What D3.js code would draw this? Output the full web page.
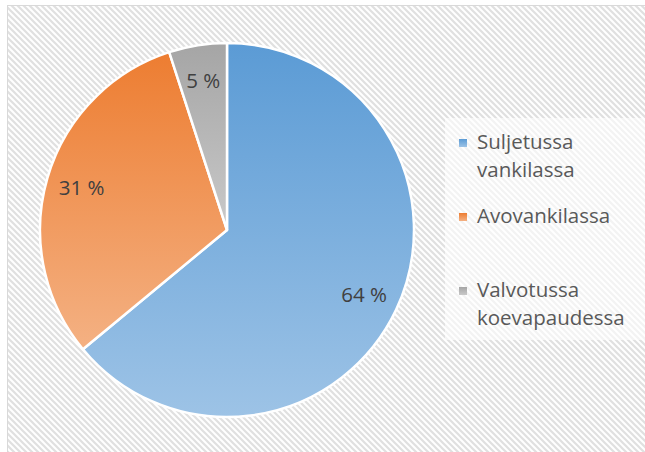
<!DOCTYPE html>
<html>
<head>
<meta charset="utf-8">
<script src="https://cdn.jsdelivr.net/npm/d3@7"></script>
<style>
  body { margin: 0; background: #fff; }
  text { font-family: "Open Sans", sans-serif; }
</style>
</head>
<body>
<div id="chart"></div>
<script>
// data
var categories = ['Suljetussa vankilassa', 'Avovankilassa', 'Valvotussa koevapaudessa'];
var values = [64, 31, 5];
var legendLines = [['Suljetussa', 'vankilassa'], ['Avovankilassa'], ['Valvotussa', 'koevapaudessa']];
var topColors = ['#5b9bd5', '#ed7d31', '#a5a5a5'];
var bottomColors = ['#9dc3e6', '#f4b183', '#c9c9c9'];

var width = 645;
var height = 452;
var cx = 227, cy = 230, radius = 187;

var svg = d3.select('#chart')
    .append('svg')
    .attr('width', width)
    .attr('height', height);

var defs = svg.append('defs');

// hatched background
var pattern = defs.append('pattern')
    .attr('id', 'hatch')
    .attr('patternUnits', 'userSpaceOnUse')
    .attr('width', 6)
    .attr('height', 6);
pattern.append('rect').attr('width', 6).attr('height', 6).attr('fill', '#fff');
pattern.append('path')
    .attr('d', 'M-1,-1 L7,7 M-1,5 L1,7 M5,-1 L7,1')
    .attr('stroke', '#e0e0e0')
    .attr('stroke-width', 2.2);

// gradient per slice
categories.forEach((c, i) => {
    var g = defs.append('linearGradient')
        .attr('id', 'grad' + i)
        .attr('x1', 0).attr('y1', 0)
        .attr('x2', 0).attr('y2', 1);
    g.append('stop').attr('offset', '0%').attr('stop-color', topColors[i]);
    g.append('stop').attr('offset', '100%').attr('stop-color', bottomColors[i]);
});

svg.append('rect')
    .attr('x', 7.5)
    .attr('y', 5.5)
    .attr('width', width + 10)
    .attr('height', height + 10)
    .attr('fill', 'url(#hatch)')
    .attr('stroke', '#d9d9d9')
    .attr('stroke-width', 1);

var pie = d3.pie().sort(null).value(d => d);
var arcs = pie(values);

var arc = d3.arc().innerRadius(0).outerRadius(radius);
var labelArc = d3.arc().innerRadius(radius * 0.81).outerRadius(radius * 0.81);

var g = svg.append('g')
    .attr('transform', 'translate(' + cx + ',' + cy + ')');

g.selectAll('path')
    .data(arcs)
    .enter()
    .append('path')
    .attr('d', arc)
    .attr('fill', (d, i) => 'url(#grad' + i + ')')
    .attr('stroke', '#fff')
    .attr('stroke-width', 2.5)
    .attr('stroke-linejoin', 'round');

g.selectAll('.lbl')
    .data(arcs)
    .enter()
    .append('text')
    .attr('class', 'lbl')
    .attr('transform', d => 'translate(' + labelArc.centroid(d) + ')')
    .attr('text-anchor', 'middle')
    .attr('dy', '0.35em')
    .attr('font-size', 20.5)
    .attr('fill', '#404040')
    .text(d => d.value + ' %');

// legend
svg.append('rect')
    .attr('x', 445)
    .attr('y', 118)
    .attr('width', 210)
    .attr('height', 222)
    .attr('fill', '#fff')
    .attr('opacity', 0.6);

var legendY = d3.scalePoint()
    .domain(categories)
    .range([139, 287]);

var item = svg.selectAll('.legend')
    .data(categories)
    .enter()
    .append('g')
    .attr('class', 'legend')
    .attr('transform', d => 'translate(459,' + legendY(d) + ')');

item.append('rect')
    .attr('width', 8)
    .attr('height', 8)
    .attr('fill', (d, i) => 'url(#grad' + i + ')');

item.append('text')
    .attr('x', 18)
    .attr('y', 9.5)
    .attr('font-size', 20.5)
    .attr('fill', '#595959')
    .selectAll('tspan')
    .data((d, i) => legendLines[i])
    .enter()
    .append('tspan')
    .attr('x', 18)
    .attr('dy', (d, j) => j === 0 ? 0 : 28)
    .text(d => d);
</script>
</body>
</html>
